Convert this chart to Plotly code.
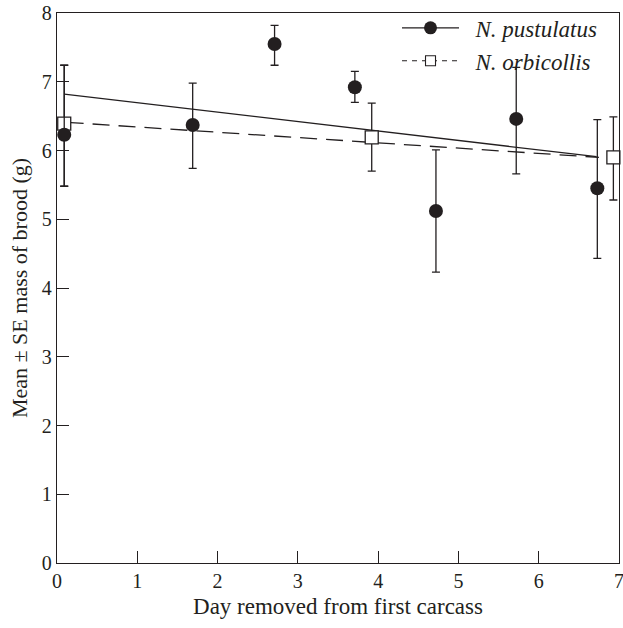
import plotly.graph_objects as go

# N. pustulatus (filled circles)
pust_x = [0.09, 1.69, 2.71, 3.71, 4.72, 5.72, 6.73]
pust_y = [6.23, 6.37, 7.55, 6.92, 5.12, 6.46, 5.45]
pust_hi = [7.24, 6.98, 7.82, 7.15, 6.01, 7.21, 6.45]
pust_lo = [5.48, 5.74, 7.24, 6.70, 4.23, 5.66, 4.43]

# N. orbicollis (open squares)
orbi_x = [0.09, 3.92, 6.93]
orbi_y = [6.39, 6.19, 5.90]
orbi_hi = [7.24, 6.69, 6.49]
orbi_lo = [5.48, 5.70, 5.28]

# regression lines
pust_fit_x = [0.09, 6.72]
pust_fit_y = [6.82, 5.91]
orbi_fit_x = [0.12, 6.75]
orbi_fit_y = [6.41, 5.90]

x_ticks = [0, 1, 2, 3, 4, 5, 6, 7]
y_ticks = [0, 1, 2, 3, 4, 5, 6, 7, 8]

INK = "#231f20"
FONT = "Liberation Serif"

def up(hi, y):
    return [h - v for h, v in zip(hi, y)]

def down(lo, y):
    return [v - l for l, v in zip(lo, y)]

fig = go.Figure()

fig.add_trace(go.Scatter(x=orbi_fit_x, y=orbi_fit_y, mode="lines",
                         line=dict(color=INK, width=1.3, dash="17px,9px"),
                         showlegend=False, hoverinfo="skip"))
fig.add_trace(go.Scatter(x=pust_fit_x, y=pust_fit_y, mode="lines",
                         line=dict(color=INK, width=1.3),
                         showlegend=False, hoverinfo="skip"))

fig.add_trace(go.Scatter(
    x=orbi_x, y=orbi_y, mode="markers", showlegend=False, cliponaxis=False,
    marker=dict(symbol="square", size=13, color="white",
                line=dict(color=INK, width=1.3)),
    error_y=dict(type="data", symmetric=False, array=up(orbi_hi, orbi_y),
                 arrayminus=down(orbi_lo, orbi_y), color=INK, thickness=1.3, width=4)))

fig.add_trace(go.Scatter(
    x=pust_x, y=pust_y, mode="markers", showlegend=False, cliponaxis=False,
    marker=dict(symbol="circle", size=14, color=INK, line=dict(width=0)),
    error_y=dict(type="data", symmetric=False, array=up(pust_hi, pust_y),
                 arrayminus=down(pust_lo, pust_y), color=INK, thickness=1.3, width=4)))

# legend entries
fig.add_trace(go.Scatter(x=[None], y=[None], mode="lines+markers", name="\u2002N. pustulatus",
                         line=dict(color=INK, width=1.3),
                         marker=dict(symbol="circle", size=13, color=INK)))
fig.add_trace(go.Scatter(x=[None], y=[None], mode="lines+markers", name="\u2002N. orbicollis",
                         line=dict(color=INK, width=1.1, dash="5px,5px"),
                         marker=dict(symbol="square", size=10, color="white",
                                     line=dict(color=INK, width=1.1))))

axis_common = dict(showline=True, linecolor=INK, linewidth=1.3, mirror=True,
                   ticks="inside", ticklen=12, tickwidth=1.3, tickcolor=INK,
                   showgrid=False, zeroline=False, automargin=False,
                   ticklabeloverflow="allow",
                   tickfont=dict(family=FONT, size=20, color=INK))

fig.update_xaxes(range=[0, 7], tickvals=x_ticks, ticktext=[str(t) for t in x_ticks],
                 title=dict(text="Day removed from first carcass",
                            font=dict(family=FONT, size=23, color=INK), standoff=6),
                 **axis_common)
fig.update_yaxes(range=[0, 8], tickvals=y_ticks, ticktext=[str(t) for t in y_ticks],
                 title=dict(text="Mean ± SE mass of brood (g)",
                            font=dict(family=FONT, size=22, color=INK), standoff=8),
                 **axis_common)

fig.update_layout(
    width=623, height=628,
    margin=dict(l=57, r=4, t=13, b=65),
    paper_bgcolor="white", plot_bgcolor="white",
    legend=dict(x=0.605, y=1.012, xanchor="left", yanchor="top",
                bgcolor="rgba(0,0,0,0)", itemwidth=57,
                font=dict(family=FONT, size=23, color=INK, style="italic"),
                tracegroupgap=0),
    font=dict(family=FONT, color=INK),
)

fig.write_html("out.html")
